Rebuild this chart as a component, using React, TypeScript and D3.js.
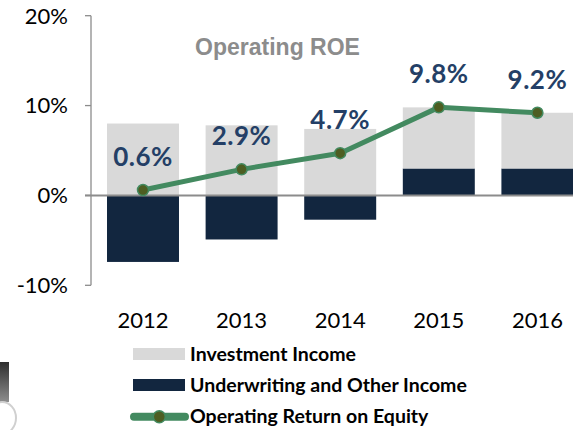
import React from 'react';
import * as d3 from 'd3';

const years = ['2012', '2013', '2014', '2015', '2016'];
const investmentIncome = [8.0, 7.8, 7.4, 6.8, 6.2];
const underwritingIncome = [-7.4, -4.9, -2.7, 3.0, 3.0];
const operatingRoe = [0.6, 2.9, 4.7, 9.8, 9.2];
const yTicks = [-10, 0, 10, 20];

const W = 573;
const H = 430;
const FONT = 'Lato, "Open Sans", sans-serif';

const App = () => {
  const x = d3.scaleBand<string>().domain(years).range([93.7, 586.7]).paddingInner(0.27).paddingOuter(0.135);
  const y = d3.scaleLinear().domain([-10, 20]).range([285.3, 15.7]);

  // underwriting nearest zero, investment stacked above it
  const rows = years.map((yr, i) => ({ year: yr, uw: underwritingIncome[i], inv: investmentIncome[i] }));
  const stacked = d3.stack<any>().keys(['uw', 'inv']).offset(d3.stackOffsetDiverging)(rows);
  const colors: Record<string, string> = { uw: '#12263f', inv: '#d9d9d9' };

  const cx = (yr: string) => (x(yr) as number) + x.bandwidth() / 2;
  const roeLine = d3.line<number>().x((_, i) => cx(years[i])).y((v) => y(v));

  return (
    <svg width={W} height={H} style={{ display: 'block', position: 'absolute', left: 0, top: 0 }}>
      <defs>
        <linearGradient id="icon" x1="0" y1="0" x2="0" y2="1">
          <stop offset="0" stopColor="#2e2e2e" />
          <stop offset="1" stopColor="#8e8e8e" />
        </linearGradient>
      </defs>
      <rect width={W} height={H} fill="#fff" />

      {/* cut-off picture in the corner */}
      <rect x={0} y={362} width={9} height={40} fill="url(#icon)" />
      <ellipse cx={2} cy={418} rx={14} ry={16} fill="#fff" stroke="#d0d0d0" strokeWidth={2} />

      <text x={277.5} y={55} textAnchor="middle" fontFamily="'Liberation Sans', Arial, sans-serif"
        fontWeight="bold" fontSize={23} fill="#8c8c8c">Operating ROE</text>

      {stacked.map((s) => (
        <g key={s.key}>
          {s.map((d, i) => (
            <rect key={i} x={x(years[i])} width={x.bandwidth()}
              y={y(Math.max(d[0], d[1]))} height={Math.abs(y(d[0]) - y(d[1]))}
              fill={colors[s.key]} />
          ))}
        </g>
      ))}

      {/* y axis */}
      <line x1={91} x2={91} y1={y(20)} y2={y(-10)} stroke="#8c8c8c" strokeWidth={1.3} />
      {yTicks.map((t) => (
        <g key={t}>
          <line x1={85} x2={91} y1={y(t)} y2={y(t)} stroke="#8c8c8c" strokeWidth={1.3} />
          <text x={68} y={y(t)} dy="0.36em" textAnchor="end" fontFamily={FONT} fontSize={22} fill="#000">{t}%</text>
        </g>
      ))}
      <line x1={85} x2={W} y1={y(0)} y2={y(0)} stroke="#8c8c8c" strokeWidth={2} />

      {years.map((yr) => (
        <text key={yr} x={cx(yr)} y={328} textAnchor="middle" fontFamily={FONT} fontSize={22} fill="#000">{yr}</text>
      ))}

      <path d={roeLine(operatingRoe) || ''} fill="none" stroke="#438a60" strokeWidth={5} strokeLinejoin="round" />
      {operatingRoe.map((v, i) => (
        <g key={i}>
          <circle cx={cx(years[i])} cy={y(v)} r={5.5} fill="#4d5e22" stroke="#438a60" strokeWidth={1.5} />
          <text x={cx(years[i])} y={y(v) - 24} textAnchor="middle" fontFamily={FONT} fontWeight="bold"
            fontSize={26} letterSpacing={0.5} fill="#243f66">{v.toFixed(1)}%</text>
        </g>
      ))}

      {/* legend */}
      <g fontFamily={FONT} fontWeight="bold" fontSize={19.5} fill="#000">
        <rect x={133} y={348} width={52} height={12} fill="#d9d9d9" />
        <text x={190} y={361}>Investment Income</text>
        <rect x={133} y={379} width={52} height={12} fill="#12263f" />
        <text x={190} y={392}>Underwriting and Other Income</text>
        <line x1={134} x2={185} y1={416.7} y2={416.7} stroke="#438a60" strokeWidth={8} strokeLinecap="round" />
        <circle cx={159.3} cy={416.7} r={6} fill="#4d5e22" stroke="#438a60" strokeWidth={1.5} />
        <text x={190} y={423}>Operating Return on Equity</text>
      </g>
    </svg>
  );
};

export default App;
